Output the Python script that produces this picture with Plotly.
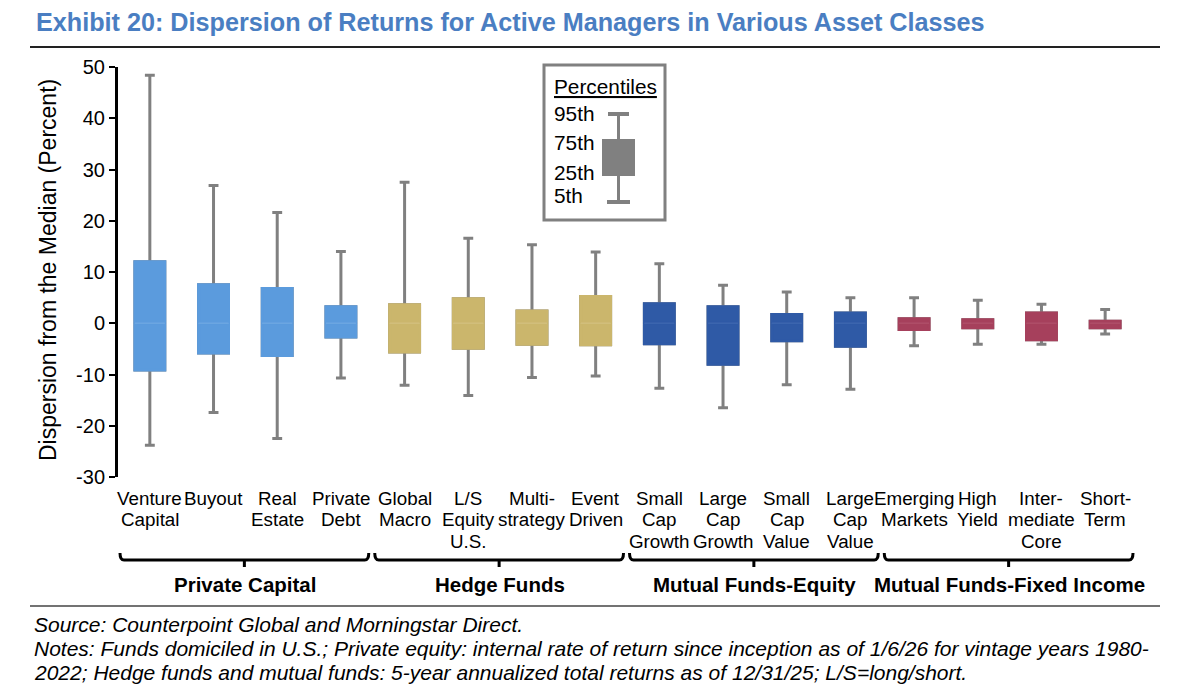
import plotly.graph_objects as go

# ---------------- data ----------------
CATEGORIES = ["Venture<br>Capital", "Buyout", "Real<br>Estate", "Private<br>Debt",
              "Global<br>Macro", "L/S<br>Equity<br>U.S.", "Multi-<br>strategy", "Event<br>Driven",
              "Small<br>Cap<br>Growth", "Large<br>Cap<br>Growth", "Small<br>Cap<br>Value", "Large<br>Cap<br>Value",
              "Emerging<br>Markets", "High<br>Yield", "Inter-<br>mediate<br>Core", "Short-<br>Term"]
P95 = [48.4, 26.9, 21.6, 14.0, 27.5, 16.6, 15.3, 13.9, 11.6, 7.4, 6.1, 5.0, 5.0, 4.5, 3.7, 2.7]
P75 = [12.0, 7.5, 6.8, 3.2, 3.6, 4.8, 2.4, 5.2, 3.8, 3.2, 1.7, 2.0, 0.9, 0.7, 2.0, 0.4]
P50 = [0.0] * 16
P25 = [-9.1, -5.8, -6.3, -2.7, -5.6, -4.9, -4.1, -4.2, -4.0, -8.0, -3.4, -4.5, -1.2, -0.9, -3.2, -0.9]
P5 = [-23.8, -17.4, -22.5, -10.7, -12.1, -14.1, -10.6, -10.3, -12.7, -16.5, -12.0, -12.9, -4.4, -4.1, -4.1, -2.1]

GROUPS = ["Private Capital", "Hedge Funds", "Mutual Funds-Equity", "Mutual Funds-Fixed Income"]
GROUP_SPANS = [(0, 3), (4, 7), (8, 11), (12, 15)]
GROUP_COLORS = ["#5B9BDD", "#CBB66C", "#2F5AA6", "#A6405C"]
MEDIAN_COLORS = ["#6CA6E1", "#D1BF7C", "#3C65AE", "#AF4E68"]

TITLE = "Exhibit 20: Dispersion of Returns for Active Managers in Various Asset Classes"
Y_TITLE = "Dispersion from the Median (Percent)"
Y_TICKS = [-30, -20, -10, 0, 10, 20, 30, 40, 50]
Y_TICK_TEXT = ["-30", "-20", "-10", "0", "10", "20", "30", "40", "50"]
LEGEND_TITLE = "Percentiles"
LEGEND_LABELS = ["95th", "75th", "25th", "5th"]
SOURCE_LINES = [
    "Source: Counterpoint Global and Morningstar Direct.",
    "Notes: Funds domiciled in U.S.; Private equity: internal rate of return since inception as of 1/6/26 for vintage years 1980-",
    "2022; Hedge funds and mutual funds: 5-year annualized total returns as of 12/31/25; L/S=long/short.",
]

# ---------------- layout geometry (pixels) ----------------
OFF = 8                     # page body margin
W, H = 1184, 678
L, T = 118 - OFF, 67 - OFF
R = W - (1137 - OFF)
B = H - (477 - OFF)
PW, PH = W - L - R, H - T - B
FONT = "Liberation Sans"
GRAY = "#808080"


def px_x(px):
    """reference-screen x pixel -> paper coordinate"""
    return (px - OFF - L) / PW


def px_y(py):
    """reference-screen y pixel -> paper coordinate"""
    return (H - B - (py - OFF)) / PH


fig = go.Figure()

for g, (i0, i1) in enumerate(GROUP_SPANS):
    sl = slice(i0, i1 + 1)
    # whiskers (gray)
    fig.add_trace(go.Box(
        x=CATEGORIES[sl], q1=P25[sl], median=P50[sl], q3=P75[sl],
        lowerfence=P5[sl], upperfence=P95[sl],
        line=dict(color=GRAY, width=3), fillcolor=GRAY,
        width=0.47, whiskerwidth=0.33, showlegend=False, hoverinfo="skip",
    ))
    # coloured interquartile box on top
    fig.add_trace(go.Box(
        x=CATEGORIES[sl], q1=P25[sl], median=P50[sl], q3=P75[sl],
        lowerfence=P25[sl], upperfence=P75[sl],
        line=dict(color=GROUP_COLORS[g], width=3), fillcolor=GROUP_COLORS[g],
        width=0.47, whiskerwidth=0, showlegend=False, hoverinfo="skip",
    ))
    # faint median line
    fig.add_trace(go.Box(
        x=CATEGORIES[sl], q1=P50[sl], median=P50[sl], q3=P50[sl],
        lowerfence=P50[sl], upperfence=P50[sl],
        line=dict(color=MEDIAN_COLORS[g], width=1), fillcolor=MEDIAN_COLORS[g],
        width=0.47, whiskerwidth=0, showlegend=False, hoverinfo="skip",
    ))

annotations = []
shapes = []

# category labels, one line per annotation for tight line spacing
for cat in CATEGORIES:
    for k, line in enumerate(cat.split("<br>")):
        annotations.append(dict(
            x=cat, xref="x", y=px_y(498 + 21.5 * k), yref="paper",
            text=line, showarrow=False, xanchor="center", yanchor="middle",
            font=dict(family=FONT, size=18.8, color="black"),
        ))

# group brackets and labels
step = PW / len(CATEGORIES)
for name, (i0, i1) in zip(GROUPS, GROUP_SPANS):
    cx0 = L + OFF + (i0 + 0.5) * step
    cx1 = L + OFF + (i1 + 0.5) * step
    x0 = px_x(cx0 - 0.5 * step + 2)
    x1 = px_x(cx1 + 0.5 * step - 4)
    xc = (x0 + x1) / 2
    ya, yb, yc = px_y(553), px_y(560), px_y(567)
    dx = 4 / PW
    path = (f"M {x0},{ya} Q {x0},{yb} {x0 + dx},{yb} L {x1 - dx},{yb} "
            f"Q {x1},{yb} {x1},{ya} M {xc},{yb} L {xc},{yc}")
    shapes.append(dict(type="path", path=path, xref="paper", yref="paper",
                       line=dict(color="black", width=3)))
    annotations.append(dict(
        x=px_x((cx0 + cx1) / 2), xref="paper", y=px_y(584), yref="paper",
        text=f"<b>{name}</b>", showarrow=False, xanchor="center", yanchor="middle",
        font=dict(family=FONT, size=20.5, color="black"),
    ))

# title and rules
annotations.append(dict(
    x=px_x(34), xref="paper", y=px_y(22), yref="paper", text=f"<b>{TITLE}</b>",
    showarrow=False, xanchor="left", yanchor="middle",
    font=dict(family=FONT, size=25.2, color="#4A7EC2"),
))
shapes.append(dict(type="line", xref="paper", yref="paper", x0=px_x(30), x1=px_x(1160),
                   y0=px_y(47), y1=px_y(47), line=dict(color="#222222", width=2)))
shapes.append(dict(type="line", xref="paper", yref="paper", x0=px_x(30), x1=px_x(1160),
                   y0=px_y(606), y1=px_y(606), line=dict(color="#444444", width=1.5)))

# y-axis title
annotations.append(dict(
    x=px_x(48), xref="paper", y=px_y(270), yref="paper", text=Y_TITLE, textangle=-90,
    showarrow=False, xanchor="center", yanchor="middle",
    font=dict(family=FONT, size=23, color="black"),
))

# source / notes
for k, line in enumerate(SOURCE_LINES):
    annotations.append(dict(
        x=px_x(32), xref="paper", y=px_y(624 + 24 * k), yref="paper", text=f"<i>{line}</i>",
        showarrow=False, xanchor="left", yanchor="middle",
        font=dict(family=FONT, size=21, color="black"),
    ))

# legend inset
shapes.append(dict(type="rect", xref="paper", yref="paper", x0=px_x(544), x1=px_x(665),
                   y0=px_y(65), y1=px_y(220), line=dict(color=GRAY, width=3), fillcolor="white"))
annotations.append(dict(
    x=px_x(552), xref="paper", y=px_y(86), yref="paper", text=f"<u>{LEGEND_TITLE}</u>",
    showarrow=False, xanchor="left", yanchor="middle", font=dict(family=FONT, size=20.8, color="black"),
))
for lab, py in zip(LEGEND_LABELS, [113, 142, 172, 196]):
    annotations.append(dict(
        x=px_x(552), xref="paper", y=px_y(py), yref="paper", text=lab,
        showarrow=False, xanchor="left", yanchor="middle", font=dict(family=FONT, size=20.8, color="black"),
    ))
shapes.append(dict(type="line", xref="paper", yref="paper", x0=px_x(618.5), x1=px_x(618.5),
                   y0=px_y(114), y1=px_y(202), line=dict(color=GRAY, width=3)))
shapes.append(dict(type="line", xref="paper", yref="paper", x0=px_x(608), x1=px_x(629),
                   y0=px_y(114), y1=px_y(114), line=dict(color=GRAY, width=4)))
shapes.append(dict(type="line", xref="paper", yref="paper", x0=px_x(607), x1=px_x(630),
                   y0=px_y(202), y1=px_y(202), line=dict(color=GRAY, width=4)))
shapes.append(dict(type="rect", xref="paper", yref="paper", x0=px_x(602), x1=px_x(635),
                   y0=px_y(139), y1=px_y(176), line=dict(width=0), fillcolor=GRAY))

fig.update_layout(
    width=W, height=H, margin=dict(l=L, r=R, t=T, b=B),
    paper_bgcolor="white", plot_bgcolor="white",
    boxmode="overlay", showlegend=False,
    font=dict(family=FONT, color="black"),
    annotations=annotations, shapes=shapes,
    xaxis=dict(type="category", categoryorder="array", categoryarray=CATEGORIES,
               range=[-0.5, len(CATEGORIES) - 0.5], showticklabels=False, showline=False,
               showgrid=False, zeroline=False, ticks=""),
    yaxis=dict(range=[-30, 50], tickvals=Y_TICKS, ticktext=Y_TICK_TEXT, showline=True,
               linecolor="black", linewidth=3, ticks="outside", ticklen=6, tickwidth=2,
               tickcolor="black", showgrid=False, zeroline=False,
               tickfont=dict(family=FONT, size=20, color="black")),
)

fig.write_html("out.html")
